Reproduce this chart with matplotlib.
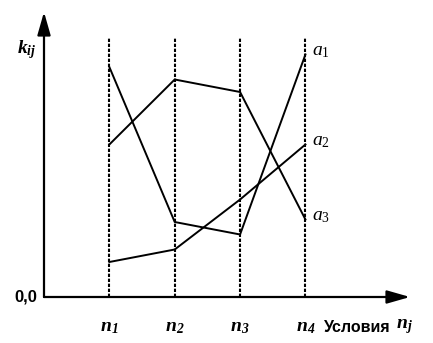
import matplotlib.pyplot as plt

# conditions n1..n4 and k_ij values for alternatives a1..a3
conditions = [1, 2, 3, 4]
cond_labels = ["$\\mathbf{n_1}$", "$\\mathbf{n_2}$", "$\\mathbf{n_3}$", "$\\mathbf{n_4}$"]
a1 = [0.92, 0.30, 0.25, 0.97]
a2 = [0.14, 0.19, 0.39, 0.61]
a3 = [0.61, 0.87, 0.82, 0.31]
series_labels = ["$a_1$", "$a_2$", "$a_3$"]

plt.rcParams['mathtext.fontset'] = 'custom'
plt.rcParams['mathtext.rm'] = 'Liberation Serif'
plt.rcParams['mathtext.it'] = 'Liberation Serif:italic'
plt.rcParams['mathtext.bf'] = 'Liberation Serif:italic:bold'

fig = plt.figure(figsize=(4.33, 3.43), dpi=100)
ax = fig.add_axes([44 / 433, 46 / 343, 366 / 433, 285 / 343])
ax.set_xlim(0, 5.6)
ax.set_ylim(0, 1.14)
ax.axis('off')

# dashed guides at each condition
for x in conditions:
    ax.plot([x, x], [0, 1.036], color='black', lw=1.5, ls=(0, (1.6, 0.8)))

for vals in (a1, a2, a3):
    ax.plot(conditions, vals, color='black', lw=1.4)

for vals, lab in zip((a1, a2, a3), series_labels):
    ax.text(conditions[-1] + 0.1, vals[-1] + 0.015, lab, fontsize=14,
            ha='left', va='center')

# axes with arrows
arrow = dict(arrowstyle='-|>,head_length=14,head_width=4', color='black',
             lw=1.6, mutation_scale=1, shrinkA=0, shrinkB=0)
ax.annotate('', xy=(0, 1.14), xytext=(0, 0), arrowprops=arrow,
            annotation_clip=False)
ax.annotate('', xy=(5.6, 0), xytext=(0, 0), arrowprops=arrow,
            annotation_clip=False)

ax.text(-0.1, 0, "0,0", fontsize=12, fontweight='bold', ha='right',
        va='center', family='Liberation Sans')
ax.text(-0.12, 0.99, "$\\mathbf{k_{ij}}$", fontsize=14, ha='right',
        va='center')

for x, lab in zip(conditions, cond_labels):
    ax.text(x, -0.12, lab, fontsize=14, ha='center', va='center')

ax.text(4.29, -0.12, "Условия", fontsize=11.5, fontweight='bold',
        family='Liberation Sans', ha='left', va='center')
ax.text(5.64, -0.12, "$\\mathbf{n_j}$", fontsize=14, ha='right',
        va='center')

fig.savefig("out.png", dpi=100)
